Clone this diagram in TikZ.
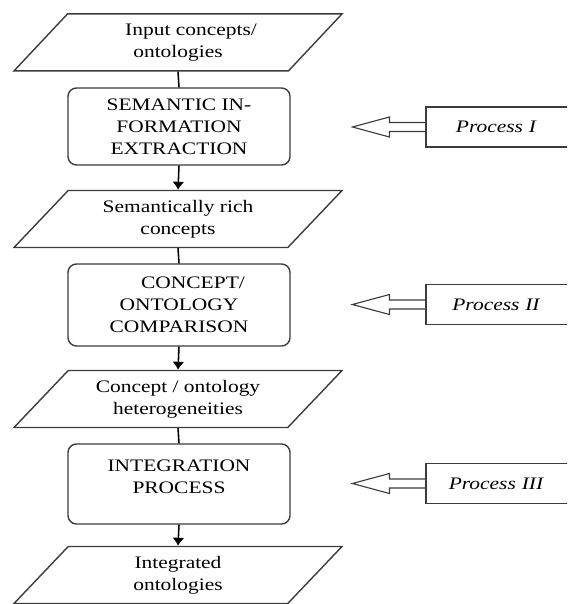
\documentclass[tikz,border=0pt]{standalone}
\usepackage{fontspec}
\setmainfont{Liberation Serif}[FakeStretch=1.22]
\usepackage{tikz}
\usetikzlibrary{shapes.geometric,arrows.meta}
\definecolor{edgegray}{HTML}{3C3C3C}

\begin{document}
\begin{tikzpicture}[>={Latex[length=2mm,width=3mm]},
        data/.style={trapezium,draw=edgegray,line width=1pt,
                    trapezium left angle=41,trapezium right angle=139,
                    trapezium stretches body,
                    minimum width=8.2cm,minimum height=1.425cm,
                    align=center,font=\fontsize{12.5}{15.5}\selectfont},
        stage/.style={rectangle,draw=edgegray,line width=1pt,rounded corners=6pt,
                    minimum width=5.55cm,minimum height=2cm,
                    align=center,font=\fontsize{12.5}{15.5}\selectfont},
        proc/.style={rectangle,draw=edgegray,line width=0.8pt,
                    minimum width=4.35cm,minimum height=1cm,
                    text width=4cm,align=left,
                    font=\fontsize{12.5}{15.5}\selectfont\itshape},
        link/.style={line width=1.1pt,draw=black},
        hollow/.style={draw=edgegray,line width=0.8pt,line join=miter}]
      %% ── Page = reference frame ───────────────────────────
      \useasboundingbox (0,0) rectangle (14.175,-15.1);
      \clip (0,0) rectangle (14.175,-15.1);
      %% ── Data (parallelograms) ─────────────────────────────
      \node[data](in)  at(4.45,-1.06) {\hspace*{0.65cm}Input concepts/\\ontologies};
      \node[data](rich)at(4.45,-5.475){Semantically rich\\concepts};
      \node[data](het) at(4.45,-9.975){Concept / ontology\\heterogeneities};
      \node[data](out) at(4.45,-14.375){Integrated\\ontologies};
      %% ── Stages (rounded boxes) ────────────────────────────
      \node[stage,minimum height=1.925cm](sem) at(4.475,-3.1625){SEMANTIC IN-\\FORMATION\\EXTRACTION};
      \node[stage,minimum height=2.05cm] (cmp) at(4.475,-7.625) {\hspace*{0.7cm}CONCEPT/\\ONTOLOGY\\COMPARISON};
      \node[stage,text depth=0.35cm]     (int) at(4.475,-12.1)  {INTEGRATION\\PROCESS};
      %% ── Process labels (right column, cut by the edge) ───
      \node[proc](pI)   at(12.825,-3.175)  {\makebox[3.15cm]{Process I}};
      \node[proc](pII)  at(12.825,-7.6125) {\makebox[3.15cm]{Process II}};
      \node[proc](pIII) at(12.825,-12.0875){\makebox[3.15cm]{Process III}};
      %% ── Flow: data → stage → data ────────────────────────
      \draw[link]    (in.south)  -- (sem.north);
      \draw[link,->] (sem.south) -- (rich.north);
      \draw[link]    (rich.south)-- (cmp.north);
      \draw[link,->] (cmp.south) -- (het.north);
      \draw[link]    (het.south) -- (int.north);
      \draw[link,->] (int.south) -- (out.north);
      %% ── Hollow arrows: process → stage ───────────────────
      \draw[hollow] (pI.west) ++(0,0.1125) -- ++(-0.9,0) -- ++(0,0.1375)
            -- ++(-0.925,-0.25) coordinate(tI) -- ++(0.925,-0.25) -- ++(0,0.1375) -- ++(0.9,0);
      \draw[hollow] (pII.west) ++(0,0.1125) -- ++(-0.9,0) -- ++(0,0.1375)
            -- ++(-0.925,-0.25) coordinate(tII) -- ++(0.925,-0.25) -- ++(0,0.1375) -- ++(0.9,0);
      \draw[hollow] (pIII.west) ++(0,0.1125) -- ++(-0.9,0) -- ++(0,0.1375)
            -- ++(-0.925,-0.25) coordinate(tIII) -- ++(0.925,-0.25) -- ++(0,0.1375) -- ++(0.9,0);
    \end{tikzpicture}
\end{document}
